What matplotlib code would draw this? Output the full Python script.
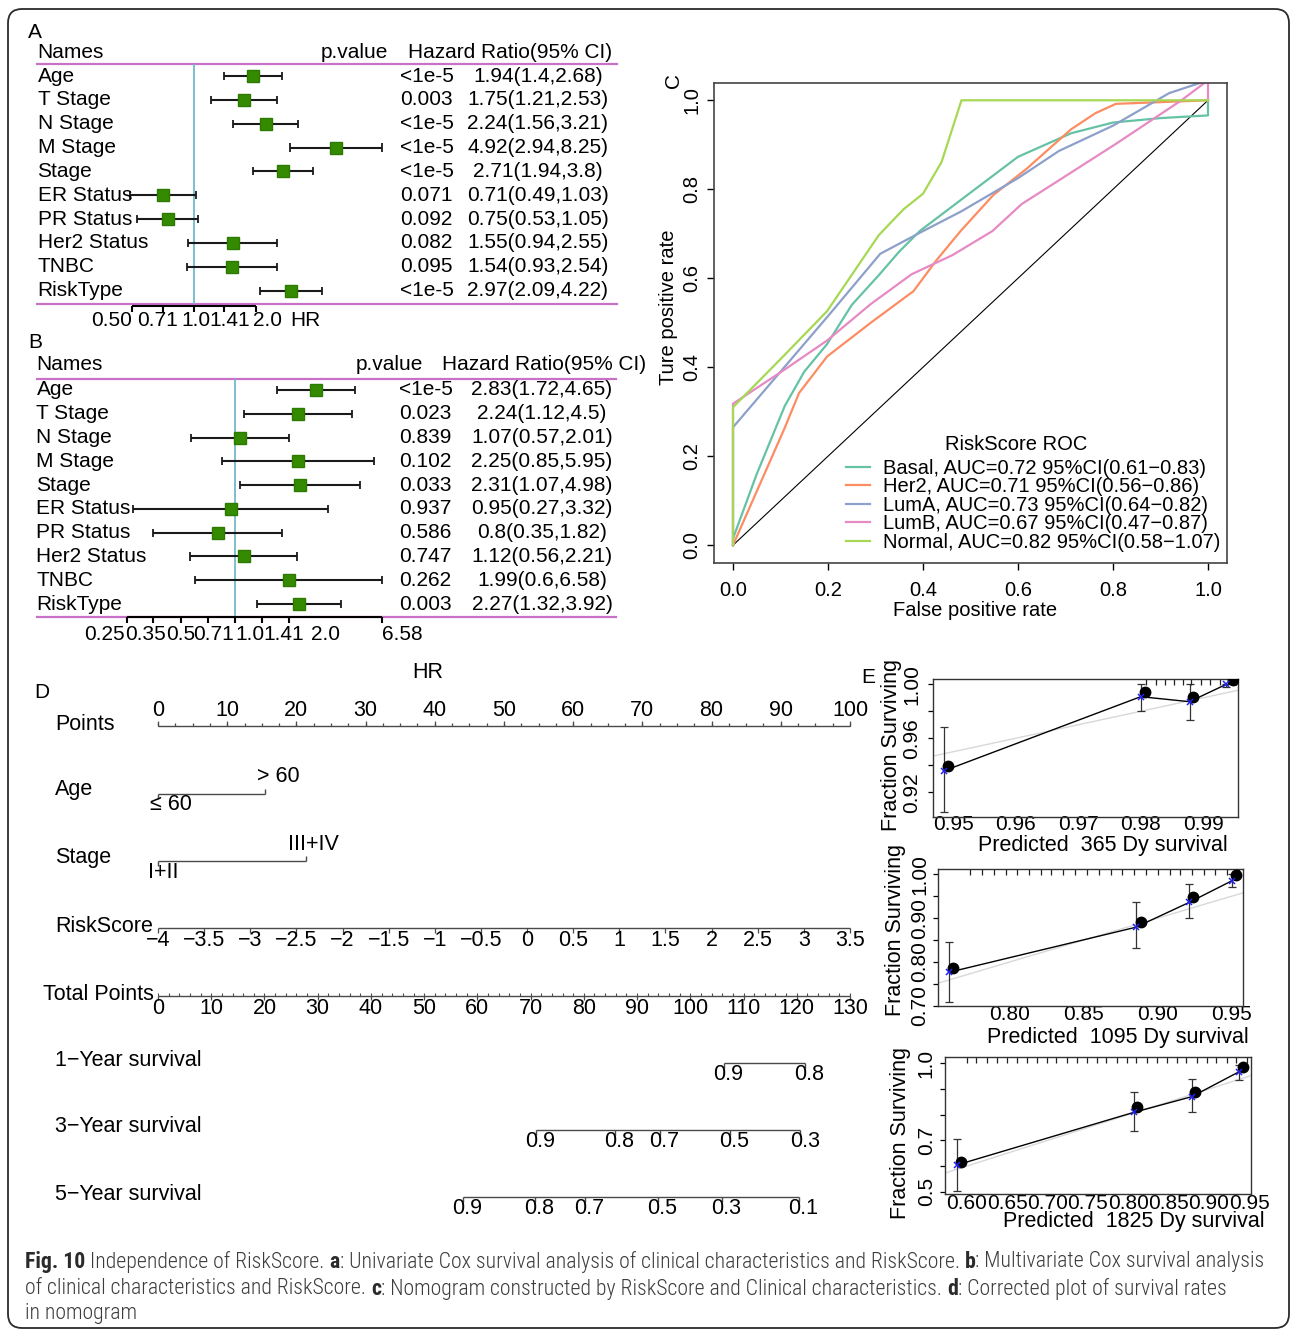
import numpy as np
import matplotlib
matplotlib.use("Agg")
import matplotlib.pyplot as plt
import matplotlib.transforms as mtransforms
from matplotlib.patches import FancyBboxPatch
from matplotlib import font_manager

# ---------------- data ----------------
names = ['Age', 'T Stage', 'N Stage', 'M Stage', 'Stage', 'ER Status',
         'PR Status', 'Her2 Status', 'TNBC', 'RiskType']

uni_p = ['<1e-5', '0.003', '<1e-5', '<1e-5', '<1e-5', '0.071', '0.092', '0.082', '0.095', '<1e-5']
uni_hr = [1.94, 1.75, 2.24, 4.92, 2.71, 0.71, 0.75, 1.55, 1.54, 2.97]
uni_lo = [1.4, 1.21, 1.56, 2.94, 1.94, 0.49, 0.53, 0.94, 0.93, 2.09]
uni_hi = [2.68, 2.53, 3.21, 8.25, 3.8, 1.03, 1.05, 2.55, 2.54, 4.22]
uni_ticks = [0.50, 0.71, 1.0, 1.41, 2.0]
uni_tick_labels = ['0.50', '0.71', '1.0', '1.41', '2.0']

multi_p = ['<1e-5', '0.023', '0.839', '0.102', '0.033', '0.937', '0.586', '0.747', '0.262', '0.003']
multi_hr = [2.83, 2.24, 1.07, 2.25, 2.31, 0.95, 0.8, 1.12, 1.99, 2.27]
multi_lo = [1.72, 1.12, 0.57, 0.85, 1.07, 0.27, 0.35, 0.56, 0.6, 1.32]
multi_hi = [4.65, 4.5, 2.01, 5.95, 4.98, 3.32, 1.82, 2.21, 6.58, 3.92]
multi_ticks = [0.25, 0.35, 0.5, 0.71, 1.0, 1.41, 2.0, 6.58]
multi_tick_labels = ['0.25', '0.35', '0.5', '0.71', '1.0', '1.41', '2.0', '6.58']

roc_names = ['Basal', 'Her2', 'LumA', 'LumB', 'Normal']
roc_auc = [0.72, 0.71, 0.73, 0.67, 0.82]
roc_ci_lo = [0.61, 0.56, 0.64, 0.47, 0.58]
roc_ci_hi = [0.83, 0.86, 0.82, 0.87, 1.07]
basal_fpr = [0, 0, 0.05, 0.109, 0.15, 0.198, 0.25, 0.307, 0.35, 0.393, 0.497, 0.6, 0.712, 0.8, 0.9, 1.0, 1.0]
basal_tpr = [0, 0.015, 0.16, 0.313, 0.39, 0.452, 0.54, 0.607, 0.66, 0.706, 0.79, 0.873, 0.926, 0.95, 0.96, 0.966, 1.0]
her2_fpr = [0, 0.109, 0.139, 0.198, 0.29, 0.38, 0.428, 0.479, 0.548, 0.617, 0.712, 0.763, 0.806, 1.0]
her2_tpr = [0, 0.264, 0.342, 0.424, 0.50, 0.571, 0.64, 0.706, 0.787, 0.845, 0.935, 0.971, 0.992, 1.0]
luma_fpr = [0, 0, 0.1, 0.2, 0.31, 0.40, 0.48, 0.6, 0.686, 0.8, 0.918, 1.0]
luma_tpr = [0, 0.265, 0.39, 0.515, 0.655, 0.706, 0.75, 0.825, 0.886, 0.943, 1.016, 1.045]
lumb_fpr = [0, 0, 0.109, 0.198, 0.29, 0.376, 0.462, 0.546, 0.608, 0.686, 0.806, 0.944, 1.0, 1.0]
lumb_tpr = [0, 0.318, 0.395, 0.46, 0.542, 0.609, 0.652, 0.706, 0.767, 0.82, 0.902, 1.0, 1.045, 1.0]
normal_fpr = [0, 0, 0.109, 0.198, 0.307, 0.359, 0.40, 0.439, 0.481, 1.0]
normal_tpr = [0, 0.31, 0.428, 0.526, 0.697, 0.755, 0.79, 0.861, 1.0, 1.0]
roc_fpr = [basal_fpr, her2_fpr, luma_fpr, lumb_fpr, normal_fpr]
roc_tpr = [basal_tpr, her2_tpr, luma_tpr, lumb_tpr, normal_tpr]
roc_colors = ['#66c2a5', '#fc8d62', '#8da0cb', '#e78ac3', '#a6d854']

# nomogram
points_ticks = [0, 10, 20, 30, 40, 50, 60, 70, 80, 90, 100]
age_levels = ['\u2264 60', '> 60']
age_pts = [0, 15.5]
stage_levels = ['I+II', 'III+IV']
stage_pts = [0, 21.4]
risk_ticks = [-4, -3.5, -3, -2.5, -2, -1.5, -1, -0.5, 0, 0.5, 1, 1.5, 2, 2.5, 3, 3.5]
total_ticks = [0, 10, 20, 30, 40, 50, 60, 70, 80, 90, 100, 110, 120, 130]
surv1_prob = [0.9, 0.8]
surv1_total = [106.3, 121.5]
surv3_prob = [0.9, 0.8, 0.7, 0.5, 0.3]
surv3_total = [71.0, 85.8, 94.3, 107.5, 120.7]
surv5_prob = [0.9, 0.8, 0.7, 0.5, 0.3, 0.1]
surv5_total = [57.3, 70.9, 80.3, 94.0, 106.0, 120.5]

# calibration curves
c1_dot_x = [0.9492, 0.9807, 0.9884, 0.9947]
c1_dot_y = [0.9397, 0.9945, 0.9908, 1.003]
c1_x = [0.9485, 0.9800, 0.9878, 0.9937]
c1_y = [0.9358, 0.9908, 0.9871, 1.000]
c1_lo = [0.9052, 0.9802, 0.9736, 0.998]
c1_hi = [0.9681, 1.0, 1.0, 1.0]
c1_rug = [0.9809, 0.9824, 0.9839, 0.9853, 0.9868, 0.9881, 0.9896, 0.9911, 0.9926, 0.994, 0.9953]

c2_dot_x = [0.7616, 0.8884, 0.924, 0.953]
c2_dot_y = [0.7854, 0.8918, 0.9489, 0.998]
c2_x = [0.7587, 0.885, 0.9213, 0.95]
c2_y = [0.7763, 0.879, 0.936, 0.985]
c2_lo = [0.709, 0.831, 0.90, 0.972]
c2_hi = [0.845, 0.936, 0.978, 1.0]
c2_rug = [0.773, 0.781, 0.789, 0.797, 0.805, 0.813, 0.821, 0.828, 0.836, 0.844, 0.852, 0.860,
          0.868, 0.876, 0.884, 0.892, 0.900, 0.908, 0.915, 0.923, 0.931, 0.939, 0.947, 0.955]

c3_dot_x = [0.5926, 0.8111, 0.8826, 0.9423]
c3_dot_y = [0.6148, 0.8288, 0.8895, 0.9868]
c3_x = [0.5876, 0.8071, 0.8785, 0.9374]
c3_y = [0.6043, 0.8093, 0.870, 0.9673]
c3_lo = [0.5043, 0.7366, 0.8117, 0.935]
c3_hi = [0.7043, 0.8895, 0.9377, 0.993]
c3_rug = [0.600, 0.612, 0.625, 0.637, 0.650, 0.662, 0.674, 0.687, 0.699, 0.711, 0.724, 0.736,
          0.749, 0.761, 0.773, 0.786, 0.798, 0.810, 0.823, 0.835, 0.848, 0.860, 0.872, 0.885,
          0.897, 0.909, 0.922, 0.934, 0.947]

# ---------------- figure ----------------
W, H = 1292, 1333
plt.rcParams['font.family'] = ['Liberation Sans', 'DejaVu Sans']
fig = plt.figure(figsize=(W / 100, H / 100), dpi=100)


def axes_px(x0, y0, x1, y1, **kw):
    return fig.add_axes([x0 / W, 1 - y1 / H, (x1 - x0) / W, (y1 - y0) / H], **kw)


def ftext(x, y, s, **kw):
    kw.setdefault('fontsize', 15)
    return fig.text(x / W, 1 - y / H, s, **kw)


xpx = mtransforms.Affine2D().scale(1 / W, 1) + fig.transFigure

bg = fig.add_axes([0, 0, 1, 1], zorder=-5)
bg.set_xlim(0, W)
bg.set_ylim(H, 0)
bg.axis('off')
bg.add_patch(FancyBboxPatch((8, 9), 1281, 1319, boxstyle='round,pad=0,rounding_size=14',
                            fc='none', ec='#2b2b2b', lw=1.3))


# ---------- forest plots (A, B) ----------
def forest(lay, hr, lo, hi, pv, ticks, tick_labels):
    x0, y0, x1, y1 = lay['box']
    one, ppl, r0, st = lay['one'], lay['ppl'], lay['row0'], lay['step']
    ax = axes_px(x0, y0, x1, y1)
    ax.set_xscale('log', base=2)
    ax.set_xlim(2 ** ((x0 - one) / ppl), 2 ** ((x1 - one) / ppl))

    def row(p):
        return (p - r0) / st
    ax.set_ylim(row(y1), row(y0))
    ax.axis('off')
    tr = mtransforms.blended_transform_factory(xpx, ax.transData)
    rows = np.arange(len(hr))
    for yl in (lay['hl1'], lay['hl2']):
        ax.plot(lay['line_x'], [row(yl)] * 2, transform=tr, color='#c970c9', lw=1.6, clip_on=False)
    ax.vlines(1.0, row(lay['hl1']), row(lay['hl2']), color='#72b9c9', lw=1.3)
    ax.hlines(rows, lo, hi, color='#1a1a1a', lw=1.5)
    ax.vlines(lo, rows - 0.17, rows + 0.17, color='#1a1a1a', lw=1.3)
    ax.vlines(hi, rows - 0.17, rows + 0.17, color='#1a1a1a', lw=1.3)
    ax.plot(hr, rows, 's', color='#348a00', ms=9, mec='#2c7a00', zorder=4)

    hdr = row(lay['head'])
    ax.text(lay['name_x'], hdr, 'Names', transform=tr, fontsize=15, va='center')
    ax.text(lay['phead_r'], hdr, 'p.value', transform=tr, fontsize=15, va='center', ha='right')
    ax.text(lay['hrhead_c'], hdr, 'Hazard Ratio(95% CI)', transform=tr, fontsize=15,
            va='center', ha='center')
    for i in rows:
        ax.text(lay['name_x'], i, names[i], transform=tr, fontsize=15, va='center')
        ax.text(lay['p_x'], i, pv[i], transform=tr, fontsize=15, va='center')
        ax.text(lay['hr_x'], i, f"{hr[i]:g}({lo[i]:g},{hi[i]:g})", transform=tr,
                fontsize=15, va='center', ha='center')
    ya = row(lay['axis'])
    ax.plot([ticks[0], ticks[-1]], [ya, ya], color='k', lw=1.5, solid_capstyle='butt')
    ax.vlines(ticks, ya, row(lay['axis'] + 6), color='k', lw=1.5)
    for lab, xp in zip(tick_labels, lay['tick_lab_px']):
        ax.text(xp, row(lay['ticklab']), lab, transform=tr, ha='center', va='center', fontsize=15)
    return ax, tr, row


lay_a = dict(box=(30, 40, 625, 335), one=193.6, ppl=62, row0=76, step=23.85, head=52.3,
             hl1=64.3, hl2=304, axis=305.5, ticklab=320.7, name_x=37.5, p_x=400, hr_x=538,
             phead_r=388, hrhead_c=510, line_x=[37, 617],
             tick_lab_px=[112, 157, 196, 230, 267])
ax_a, tr_a, row_a = forest(lay_a, uni_hr, uni_lo, uni_hi, uni_p, uni_ticks, uni_tick_labels)
ax_a.text(305.5, row_a(320.7), 'HR', transform=tr_a, ha='center', va='center', fontsize=15)

lay_b = dict(box=(30, 352, 655, 648), one=235, ppl=54, row0=390, step=23.78, head=365,
             hl1=379, hl2=617, axis=617.3, ticklab=634, name_x=36.5, p_x=399, hr_x=542,
             phead_r=423, hrhead_c=544, line_x=[36.5, 616],
             tick_lab_px=[104, 146, 180.5, 213.7, 249.6, 284, 326, 402])
forest(lay_b, multi_hr, multi_lo, multi_hi, multi_p, multi_ticks, multi_tick_labels)

ftext(35, 33, 'A', ha='center', va='center')
ftext(35, 343, 'B', ha='center', va='center')
ftext(673, 80, 'C', ha='center', va='center', rotation=90)
ftext(42, 693, 'D', ha='center', va='center')
ftext(868, 677, 'E', ha='center', va='center')
ftext(428, 672, 'HR', ha='center', va='center', fontsize=15.5)

# ---------- ROC (C) ----------
axr = axes_px(714, 82.5, 1227, 563)
axr.set_xlim(-0.04, 1.04)
axr.set_ylim(-0.04, 1.04)
axr.plot([0, 1], [0, 1], color='k', lw=0.8)
handles = []
for nm, f, t, c in zip(roc_names, roc_fpr, roc_tpr, roc_colors):
    handles.append(axr.plot(f, t, color=c, lw=1.6)[0])
labels = [f"{n}, AUC={a:.2f} 95%CI({l:.2f}\u2212{h:.2f})"
          for n, a, l, h in zip(roc_names, roc_auc, roc_ci_lo, roc_ci_hi)]
leg = axr.legend(handles, labels, loc='upper left',
                 bbox_to_anchor=(846 / W, 1 - 459 / H), bbox_transform=fig.transFigure,
                 frameon=False, fontsize=14.5, handlelength=1.2,
                 handletextpad=0.65, labelspacing=-0.03, borderpad=0, borderaxespad=0)
ftext(1016, 444, 'RiskScore ROC', ha='center', va='center', fontsize=14.5)
rt = [0, 0.2, 0.4, 0.6, 0.8, 1.0]
axr.set_xticks(rt)
axr.set_xticklabels([f"{v:.1f}" for v in rt], fontsize=14.5)
axr.set_yticks(rt)
axr.set_yticklabels([f"{v:.1f}" for v in rt], fontsize=14.5, rotation=90, va='center')
axr.tick_params(axis='x', length=5, width=1, pad=8)
axr.tick_params(axis='y', length=5, width=1, pad=4)
for s in axr.spines.values():
    s.set_color('#444444')
    s.set_linewidth(1.2)
ftext(975, 610, 'False positive rate', ha='center', va='center', fontsize=14.5)
ftext(668, 307, 'Ture positive rate', ha='center', va='center', fontsize=14.5, rotation=90)

# ---------- nomogram (D) ----------
ppx = 6.92
axn = axes_px(0, 650, 880, 1235)
axn.set_xlim((0 - 158) / ppx, (880 - 158) / ppx)
axn.set_ylim(1235, 650)
axn.axis('off')
trn = mtransforms.blended_transform_factory(xpx, axn.transData)
lc = '#4a4a4a'
fs = 15.5


def pts_risk(v):
    return (np.asarray(v, float) - risk_ticks[0]) / (risk_ticks[-1] - risk_ticks[0]) * 100


def pts_total(v):
    return np.asarray(v, float) / total_ticks[-1] * 100


def lab(v):
    return f"{v:g}".replace('-', '\u2212')


# Points
axn.hlines(726, 0, 100, color=lc, lw=1)
axn.vlines(np.arange(0, 100.1, 2.5), 726, 723, color=lc, lw=0.9)
axn.vlines(points_ticks, 726, 721, color=lc, lw=0.9)
for v in points_ticks:
    axn.text(v, 710, lab(v), ha='center', va='center', fontsize=fs)
axn.text(55, 724, 'Points', transform=trn, va='center', fontsize=fs)

# Age
axn.hlines(794, age_pts[0], age_pts[1], color=lc, lw=1)
axn.vlines(age_pts[0], 794, 799, color=lc, lw=1)
axn.vlines(age_pts[1], 794, 789, color=lc, lw=1)
axn.text(age_pts[0] + 1.85, 805, age_levels[0], ha='center', va='center', fontsize=fs)
axn.text(age_pts[1] + 1.85, 777, age_levels[1], ha='center', va='center', fontsize=fs)
axn.text(55, 790, 'Age', transform=trn, va='center', fontsize=fs)

# Stage
axn.hlines(861, stage_pts[0], stage_pts[1], color=lc, lw=1)
axn.vlines(stage_pts[0], 861, 866, color=lc, lw=1)
axn.vlines(stage_pts[1], 861, 856, color=lc, lw=1)
axn.text(stage_pts[0] + 0.7, 872, stage_levels[0], ha='center', va='center', fontsize=fs)
axn.text(stage_pts[1] + 1.0, 844, stage_levels[1], ha='center', va='center', fontsize=fs)
axn.text(55, 858, 'Stage', transform=trn, va='center', fontsize=fs)

# RiskScore
axn.hlines(928, 0, 100, color=lc, lw=1)
axn.vlines(pts_risk(risk_ticks), 928, 933, color=lc, lw=0.9)
for v in risk_ticks:
    axn.text(pts_risk(v), 941, lab(v), ha='center', va='center', fontsize=fs)
axn.text(55, 926, 'RiskScore', transform=trn, va='center', fontsize=fs)

# Total points
axn.hlines(996, 0, 100, color=lc, lw=1)
axn.vlines(pts_total(np.arange(0, 130.1, 2)), 996, 993, color=lc, lw=0.8)
axn.vlines(pts_total(total_ticks), 996, 1000, color=lc, lw=0.9)
for v in total_ticks:
    axn.text(pts_total(v), 1008, lab(v), ha='center', va='center', fontsize=fs)
axn.text(43, 994, 'Total Points', transform=trn, va='center', fontsize=fs)

# survival scales
for title, prob, tot, yl in [('1\u2212Year survival', surv1_prob, surv1_total, 1063),
                             ('3\u2212Year survival', surv3_prob, surv3_total, 1130),
                             ('5\u2212Year survival', surv5_prob, surv5_total, 1197)]:
    p = pts_total(tot)
    axn.hlines(yl, p.min(), p.max(), color=lc, lw=1)
    axn.vlines(p, yl, yl + 5, color=lc, lw=1)
    for pv, pp in zip(prob, p):
        axn.text(pp + 0.6, yl + 11.5, lab(pv), ha='center', va='center', fontsize=fs)
    axn.text(55, yl - 3, title, transform=trn, va='center', fontsize=fs)


# ---------- calibration (E) ----------
def calib(box, xlim, ylim, xticks, yticks, ylabels, dx, dy, cx, cy, lo, hi, rug,
          xlabel, xlab_px, ylab_px, ypad, xpad):
    ax = axes_px(*box)
    ax.set_xlim(*xlim)
    ax.set_ylim(*ylim)
    ax.axline((0.5, 0.5), slope=1, color='#d8d8d8', lw=1.0, zorder=1)
    ax.errorbar(cx, cy, yerr=[np.array(cy) - np.array(lo), np.array(hi) - np.array(cy)],
                fmt='none', ecolor='#333333', elinewidth=0.9, capsize=3, capthick=0.9, zorder=2)
    ax.plot(cx, cy, color='k', lw=1.0, zorder=3)
    ax.plot(dx, dy, 'o', color='k', ms=7.5, zorder=4)
    ax.plot(cx, cy, 'x', color='#2222ee', ms=4, mew=1.1, zorder=5)
    ax.vlines(rug, 0.955, 1.0, transform=ax.get_xaxis_transform(), color='#222222', lw=0.9)
    ax.set_xticks(xticks)
    ax.set_xticklabels([f"{v:.2f}" for v in xticks], fontsize=15)
    ax.set_yticks(yticks)
    ax.set_yticklabels(ylabels, fontsize=15, rotation=90, va='center')
    ax.tick_params(axis='x', length=0, pad=xpad)
    ax.tick_params(axis='y', length=3.6, width=0.9, pad=ypad)
    for s in ax.spines.values():
        s.set_color('#333333')
        s.set_linewidth(1.0)
    ftext(xlab_px[0], xlab_px[1], xlabel, ha='center', va='center', fontsize=15.5)
    ftext(ylab_px[0], ylab_px[1], 'Fraction Surviving', ha='center', va='center',
          fontsize=15.5, rotation=90)
    return ax


calib((933, 679, 1238, 817), (0.9468, 0.99555), (0.9017, 1.0039),
      [0.95, 0.96, 0.97, 0.98, 0.99], [0.92, 0.94, 0.96, 0.98, 1.00],
      ['0.92', '', '0.96', '', '1.00'],
      c1_dot_x, c1_dot_y, c1_x, c1_y, c1_lo, c1_hi, c1_rug,
      'Predicted  365 Dy survival', (1103, 845), (891, 745), 5, -1.5)
calib((938.3, 869.3, 1242.7, 1006), (0.7515, 0.9574), (0.6993, 1.0114),
      [0.80, 0.85, 0.90, 0.95], [0.70, 0.75, 0.80, 0.85, 0.90, 0.95, 1.00],
      ['0.70', '', '0.80', '', '0.90', '', '1.00'],
      c2_dot_x, c2_dot_y, c2_x, c2_y, c2_lo, c2_hi, c2_rug,
      'Predicted  1095 Dy survival', (1117.5, 1038), (895, 930), 3, -0.8)
calib((945, 1057.3, 1251, 1194), (0.573, 0.952), (0.4914, 1.0233),
      [0.60, 0.65, 0.70, 0.75, 0.80, 0.85, 0.90, 0.95], [0.5, 0.6, 0.7, 0.8, 0.9, 1.0],
      ['0.5', '', '0.7', '', '', '1.0'],
      c3_dot_x, c3_dot_y, c3_x, c3_y, c3_lo, c3_hi, c3_rug,
      'Predicted  1825 Dy survival', (1134, 1222), (901, 1133), 3, -0.3)

# ---------- caption ----------
def _w(f):
    w = f.weight
    if isinstance(w, str):
        w = font_manager.weight_dict.get(w.lower(), 400)
    return w


def has_regular(fam):
    return any(f.name == fam and _w(f) <= 400 and f.style == 'normal'
               for f in font_manager.fontManager.ttflist)


cap_family = next((f for f in ['Liberation Sans Narrow', 'Open Sans Condensed', 'Roboto Condensed',
                               'Open Sans', 'Noto Sans'] if has_regular(f)), 'DejaVu Sans')
cap_lines = [
    [('Fig. 10', True), (' Independence of RiskScore. ', False), ('a', True),
     (': Univariate Cox survival analysis of clinical characteristics and RiskScore. ', False),
     ('b', True), (': Multivariate Cox survival analysis', False)],
    [('of clinical characteristics and RiskScore. ', False), ('c', True),
     (': Nomogram constructed by RiskScore and Clinical characteristics. ', False),
     ('d', True), (': Corrected plot of survival rates', False)],
    [('in nomogram', False)],
]
cap_y = [1262, 1289, 1314]
renderer = fig.canvas.get_renderer()


def wt(bold):
    return 'bold' if bold else 'light'


def tw(s, size, bold):
    t = fig.text(0, 0, s, fontsize=size, family=cap_family, weight=wt(bold))
    w = t.get_window_extent(renderer).width
    t.remove()
    return w


def seg_widths(line, size):
    sp = tw('x x', size, False) - tw('xx', size, False)
    out = []
    for s, b in line:
        core = s.strip()
        lead = len(s) - len(s.lstrip())
        trail = len(s) - len(s.rstrip())
        out.append((core, b, lead * sp, tw(core, size, b) if core else 0, trail * sp))
    return out


base = 12
w0 = sum(l + c + t for _, _, l, c, t in seg_widths(cap_lines[0], base))
cap_size = base * 1240 / w0
for line, yy in zip(cap_lines, cap_y):
    x = 25
    for core, b, l, c, t in seg_widths(line, cap_size):
        x += l
        ftext(x, yy, core, fontsize=cap_size, family=cap_family, ha='left', va='center',
              weight=wt(b), color='#2a2a2a' if b else '#3c3c3c')
        x += c + t

fig.savefig('out.png', dpi=100)
